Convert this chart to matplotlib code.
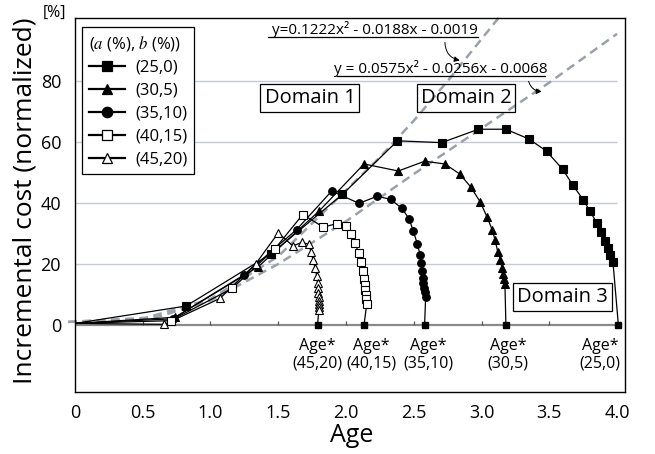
import matplotlib
matplotlib.use('Agg')
import matplotlib.pyplot as plt

plt.rc('font', family='Open Sans')
plt.rc('mathtext', fontset='stix')

# series (a %, b %) -> (age, incremental cost %), last point is Age*
x_25_0 = [0, 0.82, 1.45, 1.973, 2.38, 2.706, 2.977, 3.18, 3.35, 3.48, 3.60, 3.675,
          3.75, 3.80, 3.85, 3.88, 3.91, 3.93, 3.95, 3.97, 4.01]
y_25_0 = [0.5, 6.2, 23.4, 42.8, 60.4, 59.8, 64.2, 64.2, 61.0, 57.0, 51.0, 45.8,
          41.1, 37.4, 33.5, 30.4, 27.5, 25.4, 23.0, 20.7, 0]

x_30_5 = [0, 0.74, 1.353, 1.80, 2.133, 2.386, 2.58, 2.73, 2.84, 2.92, 2.99, 3.04,
          3.08, 3.10, 3.12, 3.14, 3.151, 3.161, 3.168, 3.173, 3.18]
y_30_5 = [0.5, 2.5, 19.1, 37.3, 52.8, 50.5, 53.7, 52.8, 49.5, 45.3, 40.4, 35.5,
          31.1, 27.9, 24.0, 21.3, 18.6, 16.7, 15.1, 13.4, 0]

x_35_10 = [0, 0.72, 1.25, 1.636, 1.894, 2.096, 2.23, 2.33, 2.413, 2.466, 2.497, 2.526,
           2.546, 2.556, 2.561, 2.566, 2.57, 2.576, 2.58, 2.588, 2.58]
y_35_10 = [0.5, 2.0, 16.5, 31.3, 43.9, 39.9, 42.2, 41.2, 38.2, 34.8, 30.7, 26.7,
           23.1, 20.2, 17.7, 15.5, 13.7, 12.2, 10.9, 9.3, 0]

x_40_15 = [0, 0.706, 1.16, 1.476, 1.68, 1.833, 1.93, 2.0, 2.04, 2.067, 2.093, 2.113,
           2.126, 2.135, 2.139, 2.142, 2.145, 2.148, 2.153, 2.133]
y_40_15 = [0.5, 1.4, 12.0, 25.0, 36.2, 32.1, 33.2, 32.6, 29.8, 26.9, 23.6, 20.5,
           17.6, 15.1, 13.1, 11.5, 9.8, 8.4, 6.9, 0]

x_45_20 = [0, 0.66, 1.07, 1.335, 1.50, 1.608, 1.676, 1.727, 1.742, 1.757, 1.772, 1.784,
           1.79, 1.794, 1.797, 1.799, 1.80, 1.80, 1.80, 1.80, 1.79]
y_45_20 = [0.5, 0.2, 8.7, 20.1, 30.2, 25.9, 27.1, 26.4, 23.8, 21.4, 18.6, 16.1,
           13.9, 12.0, 10.5, 9.2, 8.0, 7.0, 6.0, 5.0, 0]

# quadratic fit curves
fit1_x = [-0.05, 0.5, 1.0, 1.5, 1.8, 2.25, 2.5, 2.75, 3.14]
fit1_y = [1.0, 2.0, 8.5, 22.5, 35.5, 55.0, 67.0, 80.0, 101.5]
fit2_x = [-0.05, 0.6, 1.0, 1.5, 2.0, 2.5, 3.0, 3.5, 4.0]
fit2_y = [1.0, 2.5, 8.0, 20.0, 34.0, 49.5, 64.5, 79.5, 95.5]

series = [('(25,0)', x_25_0, y_25_0, 's', 'black'),
          ('(30,5)', x_30_5, y_30_5, '^', 'black'),
          ('(35,10)', x_35_10, y_35_10, 'o', 'black'),
          ('(40,15)', x_40_15, y_40_15, 's', 'white'),
          ('(45,20)', x_45_20, y_45_20, '^', 'white')]

x_ticks = [0, 0.5, 1.0, 1.5, 2.0, 2.5, 3.0, 3.5, 4.0]
x_tick_labels = ['0', '0.5', '1.0', '1.5', '2.0', '2.5', '3.0', '3.5', '4.0']
y_ticks = [0, 20, 40, 60, 80]

age_star_labels = ['(45,20)', '(40,15)', '(35,10)', '(30,5)', '(25,0)']
age_star_label_x = [1.786, 2.185, 2.605, 3.196, 3.875]

fig = plt.figure(figsize=(6.55, 4.54), dpi=100)
ax = fig.add_axes([0.1145, 0.1366, 0.8397, 0.8238])
ax.set_xlim(0, 4.059)
ax.set_ylim(-22, 100.7)

# grid and zero line
ax.hlines(y_ticks[1:], 0, 4.0, color='#c5c9d6', lw=1, zorder=0)
ax.hlines(0, 0, 4.0, color='#8a8a8a', lw=1.6, zorder=1)
ax.vlines(x_ticks[1:-1], 0, 1.4, color='#555555', lw=0.9, zorder=1)

# fitted curves
ax.plot(fit1_x, fit1_y, color='#9aa1aa', lw=1.8, dashes=(3.5, 2.2), zorder=2, clip_on=False)
ax.plot(fit2_x, fit2_y, color='#9aa1aa', lw=1.8, dashes=(3.5, 2.2), zorder=2, clip_on=False)

handles = []
for lab, xs, ys, mk, fc in series:
    ax.plot(xs, ys, color='black', lw=0.9, zorder=3)
    ax.plot(xs[1:-1], ys[1:-1], ls='none', marker=mk, ms=5.5, mfc=fc,
            mec='black', mew=0.8, zorder=4)
    ax.plot(xs[-1:], ys[-1:], ls='none', marker='s', ms=4.5, color='black', zorder=4)
    h, = ax.plot([], [], color='black', lw=1.6, marker=mk, ms=7.5, mfc=fc,
                 mec='black', mew=0.9)
    handles.append((h, lab))

leg = ax.legend([h for h, _ in handles], [l for _, l in handles],
                title=r'($\mathit{a}$ (%), $\mathit{b}$ (%))',
                loc='upper left', bbox_to_anchor=(0.013, 0.976), borderaxespad=0,
                fontsize=12, title_fontsize=12, frameon=True, fancybox=False,
                edgecolor='black', framealpha=1, handlelength=2.2,
                labelspacing=0.42, borderpad=0.4, handletextpad=0.6)
leg.get_frame().set_linewidth(0.9)
leg._legend_box.align = 'left'

# Age* labels
for lab, lx in zip(age_star_labels, age_star_label_x):
    ax.text(lx, -6.8, 'Age*', ha='center', va='center', fontsize=11.5)
    ax.text(lx, -12.6, lab, ha='center', va='center', fontsize=11.5)

# domain boxes
box = dict(boxstyle='square,pad=0.2', fc='none', ec='black', lw=0.9)
ax.text(1.734, 74.6, 'Domain 1', ha='center', va='center', fontsize=14.5, bbox=box)
ax.text(2.886, 74.6, 'Domain 2', ha='center', va='center', fontsize=14.5, bbox=box)
ax.text(3.60, 9.2, 'Domain 3', ha='center', va='center', fontsize=14.5, bbox=box)

# fit equations
ax.text(2.214, 95.6, 'y=0.1222x² - 0.0188x - 0.0019', ha='center', va='baseline', fontsize=11)
ax.plot([1.424, 2.974], [94.4, 94.4], color='black', lw=0.9)
ax.text(2.70, 82.7, 'y = 0.0575x² - 0.0256x - 0.0068', ha='center', va='baseline', fontsize=11)
ax.plot([1.934, 3.469], [81.6, 81.6], color='black', lw=0.9)
ax.annotate('', xy=(2.86, 86.6), xytext=(2.73, 93.6),
            arrowprops=dict(arrowstyle='-|>', color='black', lw=0.7, mutation_scale=8,
                            connectionstyle='arc3,rad=0.45'))
ax.annotate('', xy=(3.465, 76.6), xytext=(3.343, 80.8),
            arrowprops=dict(arrowstyle='-|>', color='black', lw=0.7, mutation_scale=8,
                            connectionstyle='arc3,rad=0.45'))

ax.set_xticks(x_ticks)
ax.set_xticklabels(x_tick_labels)
ax.set_yticks(y_ticks)
ax.tick_params(axis='both', length=0, labelsize=13)
ax.tick_params(axis='x', pad=9)
ax.tick_params(axis='y', pad=10)
for s in ax.spines.values():
    s.set_linewidth(1.0)

fig.text(25 / 655, 1 - 201 / 454, 'Incremental cost (normalized)', rotation=90,
         ha='center', va='center', fontsize=19)
fig.text(54 / 655, 1 - 13 / 454, '[%]', ha='center', va='center', fontsize=11.5)
fig.text(352 / 655, 1 - 435 / 454, 'Age', ha='center', va='center', fontsize=18)

fig.savefig('out.png', dpi=100)
